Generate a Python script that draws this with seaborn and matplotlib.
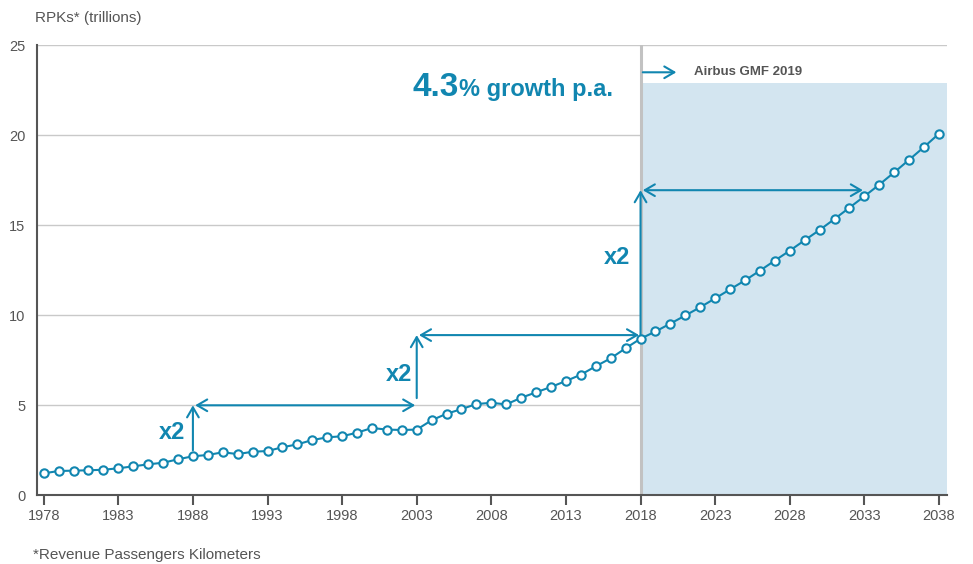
import matplotlib
matplotlib.use("Agg")
import matplotlib.pyplot as plt
import seaborn as sns
import pandas as pd
import numpy as np

years = list(range(1978, 2039))
rpk = [1.22, 1.35, 1.37, 1.39, 1.42, 1.50, 1.61, 1.72, 1.81, 2.00,
       2.17, 2.24, 2.39, 2.29, 2.42, 2.46, 2.67, 2.83, 3.07, 3.22,
       3.28, 3.48, 3.74, 3.65, 3.63, 3.65, 4.17, 4.53, 4.79, 5.07,
       5.14, 5.05, 5.42, 5.72, 6.02, 6.35, 6.70, 7.17, 7.61, 8.17,
       8.70, 9.10, 9.54, 9.99, 10.45, 10.94, 11.44, 11.94, 12.48, 13.04,
       13.59, 14.17, 14.74, 15.35, 15.98, 16.61, 17.26, 17.94, 18.64, 19.35,
       20.09]
xtick_years = [1978, 1983, 1988, 1993, 1998, 2003, 2008, 2013, 2018, 2023, 2028, 2033, 2038]
ytick_vals = [0, 5, 10, 15, 20, 25]

forecast_start = 2018
shade_top = 22.9

# doubling annotations
doubling_start = [1988, 2003, 2018]
doubling_end = [2003, 2018, 2033]
vert_from = [2.5, 5.4, 8.8]
vert_to = [5.0, 8.9, 16.95]
label_pos = [(1986.6, 3.5), (2001.8, 6.7), (2016.4, 13.2)]

TEAL = "#1186b0"
GRAY = "#555555"
SHADE = "#d3e5f0"

sns.set_theme(style="white")
plt.rcParams['font.family'] = ['Liberation Sans', 'DejaVu Sans']

fig = plt.figure(figsize=(9.73, 5.64), dpi=100)
ax = fig.add_axes([0.0377, 0.1218, 0.9353, 0.7979])

df = pd.DataFrame({"year": years, "rpk": rpk})

xmin, xmax = 1977.53, 2038.52
ax.set_xlim(xmin, xmax)
ax.set_ylim(0, 25)

for v in ytick_vals[1:]:
    ax.axhline(v, color="#c9c9c9", lw=1, zorder=0)

ax.axvspan(forecast_start, xmax, ymin=0, ymax=shade_top / 25, color=SHADE, lw=0, zorder=0.5)
ax.axvline(forecast_start, color="#c2c2c2", lw=2.2, zorder=1)

sns.lineplot(data=df, x="year", y="rpk", ax=ax, color=TEAL, lw=1.5,
             marker="o", markersize=6, markerfacecolor="white",
             markeredgecolor=TEAL, markeredgewidth=1.5, zorder=5)

arrow_kw = dict(color=TEAL, lw=1.5, shrinkA=0, shrinkB=0)
for s, e, v0, v1, (lx, ly) in zip(doubling_start, doubling_end, vert_from, vert_to, label_pos):
    ax.annotate("", xy=(s, v1), xytext=(s, v0),
                arrowprops=dict(arrowstyle="->,head_length=0.6,head_width=0.35", **arrow_kw), zorder=4)
    ax.annotate("", xy=(e - 0.1, v1), xytext=(s + 0.15, v1),
                arrowprops=dict(arrowstyle="<->,head_length=0.6,head_width=0.35", **arrow_kw), zorder=4)
    ax.text(lx, ly, "x2", color=TEAL, fontsize=17, fontweight="bold", ha="center", va="center")

# Airbus GMF arrow & label
ax.annotate("", xy=(2020.4, 23.5), xytext=(2018.15, 23.5),
            arrowprops=dict(arrowstyle="->,head_length=0.6,head_width=0.35", **arrow_kw))
ax.text(2021.6, 23.5, "Airbus GMF 2019", color=GRAY, fontsize=9.5, fontweight="bold",
        ha="left", va="center")

# growth text
t1 = ax.text(2002.7, 22.2, "4.3", color=TEAL, fontsize=24, fontweight="bold", ha="left", va="baseline")
fig.canvas.draw()
bb = t1.get_window_extent()
inv = ax.transData.inverted()
x_end = inv.transform((bb.x1, bb.y0))[0]
ax.text(x_end, 22.2, "% growth p.a.", color=TEAL, fontsize=17, fontweight="bold", ha="left", va="baseline")

ax.set_xticks(xtick_years)
ax.set_xticklabels([str(y) for y in xtick_years])
ax.set_yticks(ytick_vals)
ax.set_yticklabels([str(v) for v in ytick_vals])
ax.tick_params(axis="x", length=7, width=1.5, color=GRAY, labelcolor=GRAY, labelsize=10.5, pad=3, direction="out", bottom=True)
ax.tick_params(axis="y", length=0, labelcolor=GRAY, labelsize=10.5, pad=8)

for sp in ["top", "right"]:
    ax.spines[sp].set_visible(False)
for sp in ["left", "bottom"]:
    ax.spines[sp].set_color(GRAY)
    ax.spines[sp].set_linewidth(1.5)

ax.set_xlabel("")
ax.set_ylabel("")

fig.text(35 / 973, 1 - 18 / 564, "RPKs* (trillions)", color=GRAY, fontsize=11, ha="left", va="center")
fig.text(33 / 973, 1 - 555 / 564, "*Revenue Passengers Kilometers", color=GRAY, fontsize=11, ha="left", va="center")

fig.savefig("out.png", dpi=100)
